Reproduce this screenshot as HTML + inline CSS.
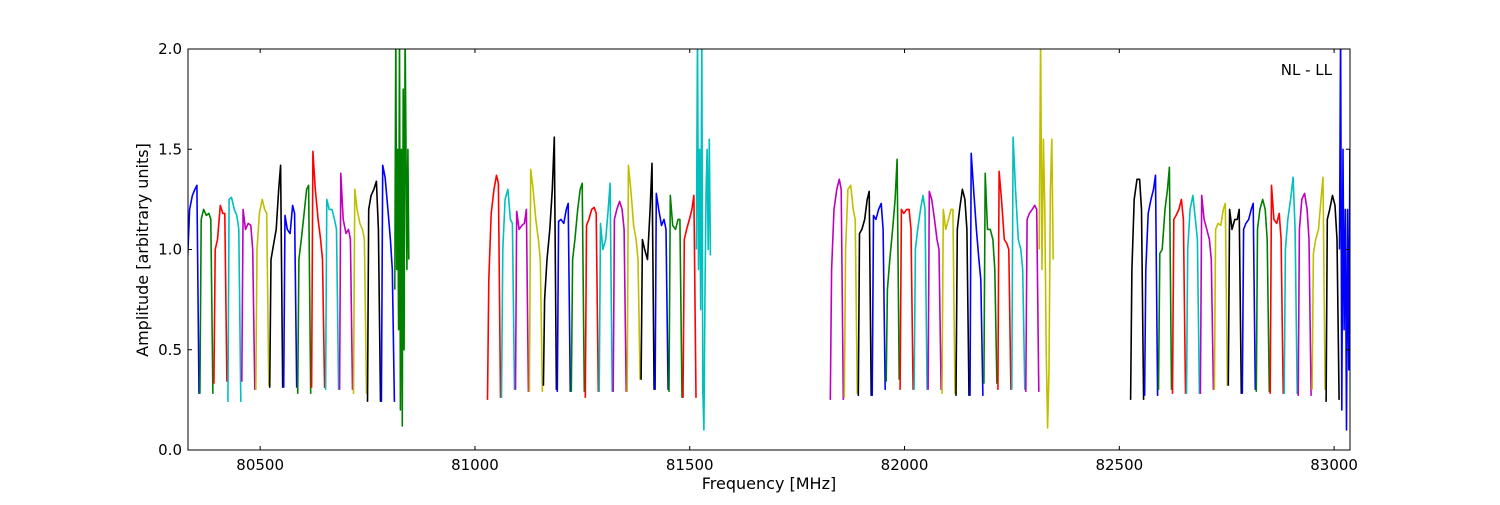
<!DOCTYPE html>
<html><head><meta charset="utf-8"><style>
body{margin:0;background:#fff;width:1500px;height:500px;overflow:hidden}
svg text{font-family:"DejaVu Sans","Liberation Sans",sans-serif;font-size:15px;fill:#000}
</style></head><body>
<svg id="chart" width="1500" height="500" xmlns="http://www.w3.org/2000/svg">
<defs><clipPath id="clip"><rect x="188" y="49" width="1162" height="401"/></clipPath></defs>
<rect x="0" y="0" width="1500" height="500" fill="#fff"/>
<g id="series" clip-path="url(#clip)"></g>
<g id="axes"></g>
<rect x="188" y="49" width="1162" height="401" fill="none" stroke="#000" stroke-width="1"/>
<text x="1332" y="75" text-anchor="end">NL - LL</text>
<text x="769" y="489" text-anchor="middle" style="font-size:16px">Frequency [MHz]</text>
<text x="148" y="250" text-anchor="middle" style="font-size:16px" transform="rotate(-90 148 250)">Amplitude [arbitrary units]</text>
</svg>
<script>
const xTicks=[80500,81000,81500,82000,82500,83000];
const yTicks=[0.0,0.5,1.0,1.5,2.0];
const colorCycle=['#0000ff','#008000','#ff0000','#00bfbf','#bf00bf','#bfbf00','#000000'];
const blockStarts=[80326,81028,81826,82525];
const segWidth=32.5;
const block1=[
[0.5,0.9,1.2,1.27,1.3,1.32,0.28],[0.28,1.15,1.2,1.17,1.18,1.15,0.28],[0.33,1.0,1.05,1.22,1.18,1.18,0.34],
[0.24,1.25,1.26,1.2,1.17,1.1,0.24],[0.34,1.2,1.1,1.13,1.12,1.0,0.3],[0.3,1.0,1.18,1.25,1.2,1.18,0.32],
[0.31,0.95,1.02,1.1,1.3,1.42,0.31],[0.31,1.17,1.1,1.08,1.22,1.18,0.31],[0.28,0.95,1.05,1.18,1.3,1.32,0.28],
[0.31,1.49,1.3,1.15,1.05,0.95,0.31],[0.3,1.25,1.2,1.2,1.15,1.1,0.3],[0.3,1.38,1.15,1.08,1.1,1.05,0.3],
[0.28,1.3,1.2,1.13,1.1,1.05,0.28],[0.24,1.2,1.27,1.3,1.34,1.1,0.24],[0.24,1.42,1.36,1.2,1.05,0.9,0.24],
[0.8,2.1,0.9,1.5,0.6,2.1,0.2,1.5,0.12,1.8,0.5,2.1,1.5,0.9,1.5,0.95]];
const block2=[
[0.25,0.85,1.18,1.3,1.37,1.33,0.26],[0.26,1.0,1.25,1.3,1.15,1.13,0.3],[0.3,1.19,1.1,1.12,1.13,1.2,0.29],
[0.29,1.4,1.3,1.15,1.05,0.95,0.29],[0.32,0.75,0.95,1.1,1.3,1.56,0.3],[0.29,1.14,1.15,1.13,1.2,1.23,0.29],
[0.29,0.95,1.05,1.2,1.3,1.33,0.29],[0.26,1.12,1.15,1.2,1.21,1.18,0.29],[0.29,1.13,1.0,1.05,1.2,1.33,0.29],
[0.29,1.15,1.2,1.24,1.2,1.1,0.29],[0.29,1.42,1.3,1.12,1.05,0.95,0.35],[0.35,1.05,1.0,0.95,1.2,1.43,0.3],
[0.3,1.28,1.2,1.12,1.15,1.1,0.3],[0.29,1.27,1.12,1.1,1.15,1.15,0.26],[0.26,1.05,1.1,1.15,1.2,1.27,0.26],
[1.0,2.1,0.9,1.5,0.7,2.1,0.3,0.1,0.8,1.3,1.5,1.0,1.55,0.97]];
const block3=[
[0.25,0.9,1.2,1.3,1.35,1.3,0.25],[0.26,1.0,1.3,1.32,1.2,1.15,0.28],[0.27,1.08,1.1,1.15,1.25,1.29,0.27],
[0.27,1.17,1.15,1.2,1.23,1.1,0.3],[0.34,0.8,0.95,1.1,1.25,1.45,0.35],[0.3,1.2,1.18,1.2,1.2,1.1,0.3],
[0.3,1.0,1.1,1.2,1.27,1.2,0.3],[0.3,1.29,1.25,1.15,1.05,1.0,0.3],[0.28,1.2,1.1,1.15,1.2,1.2,0.28],
[0.27,1.1,1.2,1.3,1.25,1.1,0.27],[0.27,1.48,1.3,1.1,0.95,0.85,0.27],[0.33,1.38,1.1,1.1,1.05,0.9,0.33],
[0.3,1.39,1.25,1.05,1.03,1.0,0.3],[0.3,1.56,1.3,1.05,1.0,0.9,0.3],[0.29,1.15,1.18,1.2,1.22,1.2,0.29],
[1.0,2.05,0.9,1.55,1.2,0.5,0.11,0.4,1.3,1.55,0.95]];
const block4=[
[0.25,0.9,1.25,1.35,1.35,1.2,0.25],[0.27,0.9,1.18,1.25,1.3,1.37,0.27],[0.3,0.98,1.0,1.2,1.3,1.41,0.3],
[0.28,1.15,1.17,1.2,1.25,1.15,0.28],[0.28,1.0,1.2,1.27,1.15,1.05,0.28],[0.28,1.27,1.15,1.1,1.05,0.95,0.3],
[0.3,1.1,1.13,1.12,1.2,1.23,0.32],[0.32,1.2,1.1,1.15,1.15,1.2,0.28],[0.28,1.1,1.13,1.15,1.2,1.23,0.3],
[0.29,1.1,1.2,1.25,1.2,1.05,0.29],[0.28,1.32,1.15,1.13,1.18,1.05,0.28],[0.28,1.0,1.15,1.25,1.36,1.1,0.28],
[0.27,1.1,1.25,1.28,1.2,1.05,0.27],[0.3,0.98,1.05,1.1,1.25,1.36,0.3],[0.24,1.15,1.2,1.27,1.22,1.05,0.25],
[1.0,2.1,0.2,1.5,0.6,1.2,0.1,1.2,0.4,1.5,0.8,1.65,1.0]];
const blocks=[block1,block2,block3,block4];

const X0=188,X1=1350,Y0=450,Y1=49,FMIN=80332,FMAX=83037,AMIN=0,AMAX=2;
function xScale(f){return X0+(f-FMIN)/(FMAX-FMIN)*(X1-X0);}
function yScale(a){return Y0-(a-AMIN)/(AMAX-AMIN)*(Y0-Y1);}
const NS='http://www.w3.org/2000/svg';
const fracs=[0.04,0.13,0.3,0.5,0.68,0.82,0.97];
const series=document.getElementById('series');
let ci=0;
blocks.forEach((blk,bi)=>{
  blk.forEach((vals,si)=>{
    const start=blockStarts[bi]+si*segWidth;
    const pts=vals.map((v,i)=>{
      const fr=vals.length===7?fracs[i]:i/(vals.length-1);
      return xScale(start+fr*segWidth).toFixed(1)+','+yScale(v).toFixed(1);
    }).join(' ');
    const pl=document.createElementNS(NS,'polyline');
    pl.setAttribute('points',pts);
    pl.setAttribute('fill','none');
    pl.setAttribute('stroke',colorCycle[ci%7]);
    pl.setAttribute('stroke-width','1.6');
    pl.setAttribute('stroke-linejoin','round');
    
    
    series.appendChild(pl);
    ci++;
  });
});
const axes=document.getElementById('axes');
xTicks.forEach(t=>{
  const x=xScale(t);
  [[Y0,Y0-4],[Y1,Y1+4]].forEach(([a,b])=>{
    const l=document.createElementNS(NS,'line');
    l.setAttribute('x1',x);l.setAttribute('x2',x);l.setAttribute('y1',a);l.setAttribute('y2',b);
    l.setAttribute('stroke','#000');
    
    
    axes.appendChild(l);
  });
  const tx=document.createElementNS(NS,'text');
  tx.setAttribute('x',x);tx.setAttribute('y',470);tx.setAttribute('text-anchor','middle');
  tx.textContent=t;
  
  
  axes.appendChild(tx);
});
yTicks.forEach(t=>{
  const y=yScale(t);
  [[X0,X0+4],[X1,X1-4]].forEach(([a,b])=>{
    const l=document.createElementNS(NS,'line');
    l.setAttribute('x1',a);l.setAttribute('x2',b);l.setAttribute('y1',y);l.setAttribute('y2',y);
    l.setAttribute('stroke','#000');
    
    
    axes.appendChild(l);
  });
  const tx=document.createElementNS(NS,'text');
  tx.setAttribute('x',182);tx.setAttribute('y',y+5);tx.setAttribute('text-anchor','end');
  tx.textContent=t.toFixed(1);
  
  
  axes.appendChild(tx);
});
</script>
</body></html>
